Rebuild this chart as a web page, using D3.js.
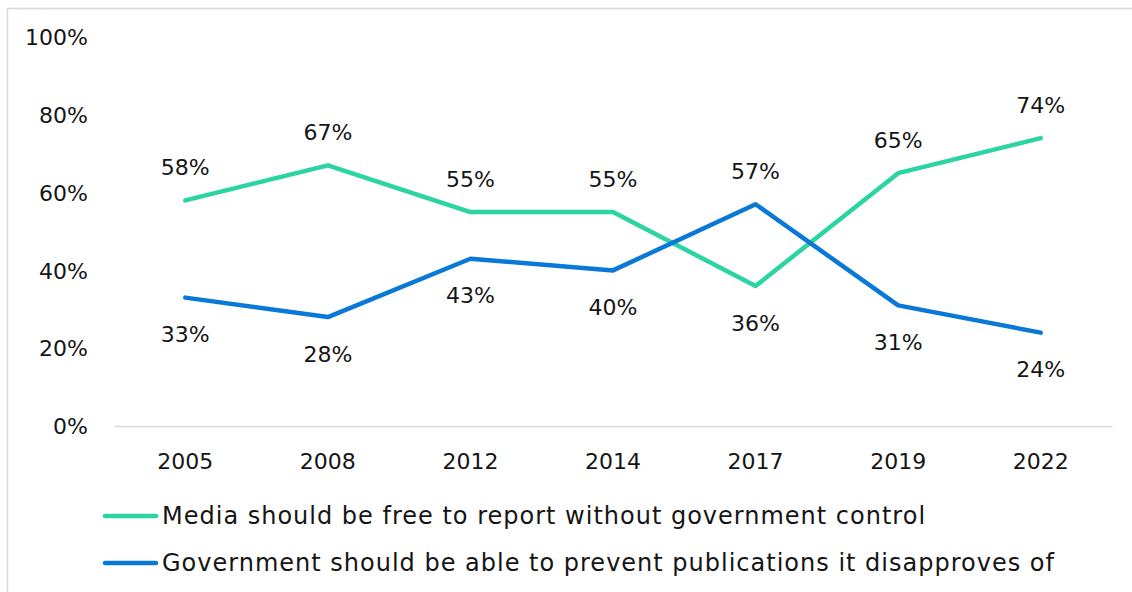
<!DOCTYPE html>
<html>
<head>
<meta charset="utf-8">
<script src="https://cdn.jsdelivr.net/npm/d3@7"></script>
<style>
  html, body { margin: 0; padding: 0; background: #fff; }
  svg { display: block; }
  text { font-family: "Century Gothic", "DejaVu Sans", sans-serif; fill: #151515; }
</style>
</head>
<body>
<svg id="chart" width="1132" height="592"></svg>
<script>
// Survey years
const years = ["2005", "2008", "2012", "2014", "2017", "2019", "2022"];
// Share of respondents (%) agreeing with each statement
const mediaFree = [58, 67, 55, 55, 36, 65, 74];
const govPrevent = [33, 28, 43, 40, 57, 31, 24];
const seriesNames = [
  "Media should be free to report without government control",
  "Government should be able to prevent publications it disapproves of"
];
const yTicks = [0, 20, 40, 60, 80, 100];

const colors = ["#2BD4A2", "#0A78D6"];
const W = 1132, H = 592;
const plot = { left: 114, right: 1112, top: 37, bottom: 426 };
const fontSize = 22;
const legendFontSize = 24;

const svg = d3.select("#chart");

// Outer chart frame
svg.append("rect")
  .attr("x", 7.5).attr("y", 8.5)
  .attr("width", W + 20).attr("height", H + 20)
  .attr("fill", "none").attr("stroke", "#d9d9d9").attr("stroke-width", 1.5);

const x = d3.scaleBand().domain(years).range([plot.left, plot.right]).padding(0);
const y = d3.scaleLinear().domain([0, 100]).range([plot.bottom, plot.top]);
const cx = d => x(d) + x.bandwidth() / 2;

// Y axis labels (no axis line)
const yAxis = d3.axisLeft(y).tickValues(yTicks).tickFormat(d => d + "%").tickSize(0).tickPadding(0);
const gy = svg.append("g").attr("transform", `translate(88,0)`).call(yAxis);
gy.select(".domain").remove();
gy.selectAll("text").attr("font-size", fontSize).attr("font-family", null).attr("dy", "0.35em");

// X axis: baseline and category labels
const xAxis = d3.axisBottom(x).tickSize(0).tickPadding(0);
const gx = svg.append("g").attr("transform", `translate(0,${plot.bottom})`).call(xAxis);
gx.select(".domain").attr("stroke", "#d9d9d9").attr("stroke-width", 1.5);
gx.selectAll("text").attr("font-size", fontSize).attr("font-family", null).attr("dy", "0").attr("y", 43);

// Lines
const series = [mediaFree, govPrevent];
const line = d3.line().x((d, i) => cx(years[i])).y(d => y(d));
series.forEach((vals, s) => {
  svg.append("path")
    .datum(vals)
    .attr("d", line)
    .attr("fill", "none")
    .attr("stroke", colors[s])
    .attr("stroke-width", 4.5)
    .attr("stroke-linejoin", "round")
    .attr("stroke-linecap", "round");
});

// Value labels: above the higher series, below the lower one
series.forEach((vals, s) => {
  const other = series[1 - s];
  svg.append("g").selectAll("text")
    .data(vals)
    .join("text")
    .attr("x", (d, i) => cx(years[i]))
    .attr("y", (d, i) => d >= other[i] ? y(d) - 33 : y(d) + 37)
    .attr("dy", "0.35em")
    .attr("text-anchor", "middle")
    .attr("font-size", fontSize)
    .text(d => d + "%");
});

// Legend
const legend = svg.append("g");
seriesNames.forEach((name, s) => {
  const ly = 516 + s * 47;
  legend.append("line")
    .attr("x1", 105).attr("x2", 156)
    .attr("y1", ly).attr("y2", ly)
    .attr("stroke", colors[s]).attr("stroke-width", 4.5)
    .attr("stroke-linecap", "round");
  legend.append("text")
    .attr("x", 162).attr("y", ly)
    .attr("dy", "0.35em")
    .attr("font-size", legendFontSize)
    .attr("letter-spacing", 1)
    .text(name);
});
</script>
</body>
</html>
